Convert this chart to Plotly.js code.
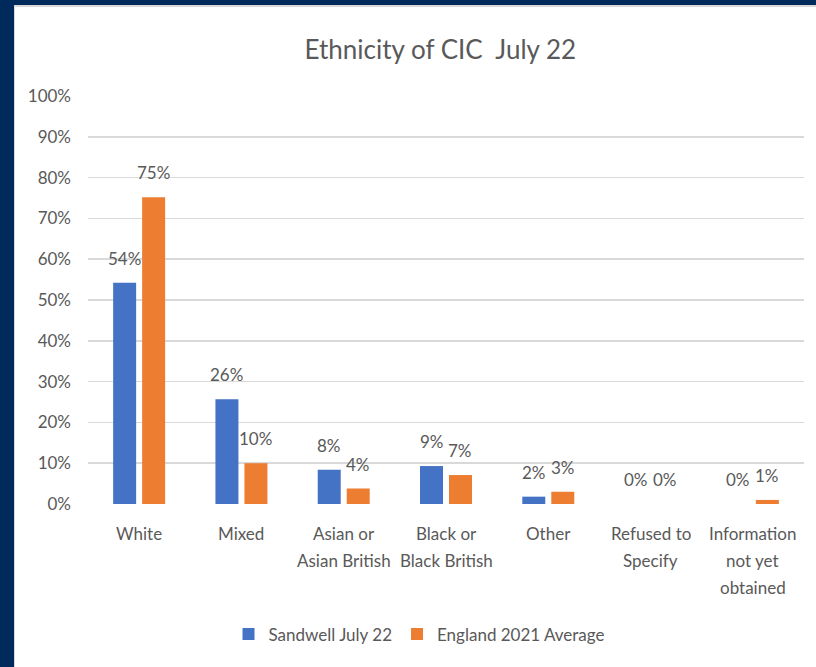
<!DOCTYPE html>
<html>
<head>
<meta charset="utf-8">
<script src="https://cdn.plot.ly/plotly-3.0.1.min.js"></script>
<style>
  html, body { margin: 0; padding: 0; width: 816px; height: 667px; background: #002A5C; overflow: hidden; }
  #frame { position: absolute; left: 14px; top: 5px; width: 802px; height: 662px; background: #d9d9d9; }
  #chart { position: absolute; left: 15px; top: 7px; width: 801px; height: 660px; background: #ffffff; }
</style>
</head>
<body>
<div id="frame"></div>
<div id="chart"></div>
<script>
const categories = ["White", "Mixed", "Asian or<br>Asian British", "Black or<br>Black British", "Other", "Refused to<br>Specify", "Information<br>not yet<br>obtained"];
const sandwell = [0.54, 0.26, 0.08, 0.09, 0.02, 0.00, 0.00];
const sandwellBars = [0.542, 0.257, 0.084, 0.093, 0.018, 0.0, 0.0];
const england = [0.75, 0.10, 0.04, 0.07, 0.03, 0.00, 0.01];
const englandBars = [0.752, 0.100, 0.038, 0.071, 0.030, 0.0, 0.010];
const seriesNames = ["Sandwell July 22", "England 2021 Average"];
const yTickVals = [0, 0.1, 0.2, 0.3, 0.4, 0.5, 0.6, 0.7, 0.8, 0.9, 1.0];
const yTickText = ["0%", "10%", "20%", "30%", "40%", "50%", "60%", "70%", "80%", "90%", "100%"];

const fmt = v => Math.round(v * 100) + "%";
const fontFam = "Lato, 'Open Sans', sans-serif";
const textGrey = "#595959";

const W = 801, H = 660;
const margin = { l: 73, r: 12, t: 89, b: 163 };
const bargap = 0.433;
const bargroupgap = 0.207;

const traces = [
  { type: "bar", name: seriesNames[0], x: categories, y: sandwellBars, marker: { color: "#4472C4" }, hoverinfo: "skip" },
  { type: "bar", name: seriesNames[1], x: categories, y: englandBars, marker: { color: "#ED7D31" }, hoverinfo: "skip" }
];

// data labels above each bar, positioned via the axis scales
const catWidth = (W - margin.l - margin.r) / categories.length;
const slot = catWidth * (1 - bargap) / 2;
const annotations = [];
[[sandwellBars, sandwell, -1], [englandBars, england, 1]].forEach(([bars, labels, side]) => {
  categories.forEach((c, j) => {
    annotations.push({
      x: c, y: bars[j], xref: "x", yref: "y",
      text: fmt(labels[j]), showarrow: false,
      xanchor: "center", yanchor: "bottom",
      xshift: side * slot / 2, yshift: 12,
      font: { family: fontFam, size: 17, color: textGrey }
    });
  });
});

// category labels (Excel-style wider line spacing), one text line each
categories.forEach(c => {
  c.split("<br>").forEach((line, k) => {
    annotations.push({
      x: c, y: 0, xref: "x", yref: "y",
      text: line, showarrow: false,
      xanchor: "center", yanchor: "middle",
      yshift: -29 - 27 * k,
      font: { family: fontFam, size: 17, color: textGrey }
    });
  });
});

const layout = {
  width: W, height: H,
  paper_bgcolor: "#ffffff", plot_bgcolor: "#ffffff",
  margin: margin,
  font: { family: fontFam, size: 17, color: textGrey },
  title: {
    text: "Ethnicity of CIC  July 22",
    font: { family: fontFam, size: 26, color: textGrey },
    x: 0.531, xref: "container", xanchor: "center",
    y: 0.935, yref: "container", yanchor: "middle"
  },
  barmode: "group",
  bargap: bargap,
  bargroupgap: bargroupgap,
  xaxis: {
    type: "category",
    showgrid: false, zeroline: false, showline: false,
    ticks: "", showticklabels: false
  },
  yaxis: {
    range: [0, 1.0],
    tickvals: yTickVals, ticktext: yTickText,
    showgrid: true, gridcolor: "#d9d9d9", gridwidth: 1.5,
    zeroline: false, showline: false,
    ticks: "", ticklabelstandoff: 16,
    tickfont: { family: fontFam, size: 17, color: textGrey }
  },
  annotations: annotations,
  showlegend: true,
  legend: {
    orientation: "h", x: 0.463, xanchor: "center", y: -0.32, yanchor: "middle",
    font: { family: fontFam, size: 17, color: textGrey },
    itemwidth: 30, tracegroupgap: 0
  }
};

Plotly.newPlot("chart", traces, layout, { displayModeBar: false, staticPlot: true });
</script>
</body>
</html>
